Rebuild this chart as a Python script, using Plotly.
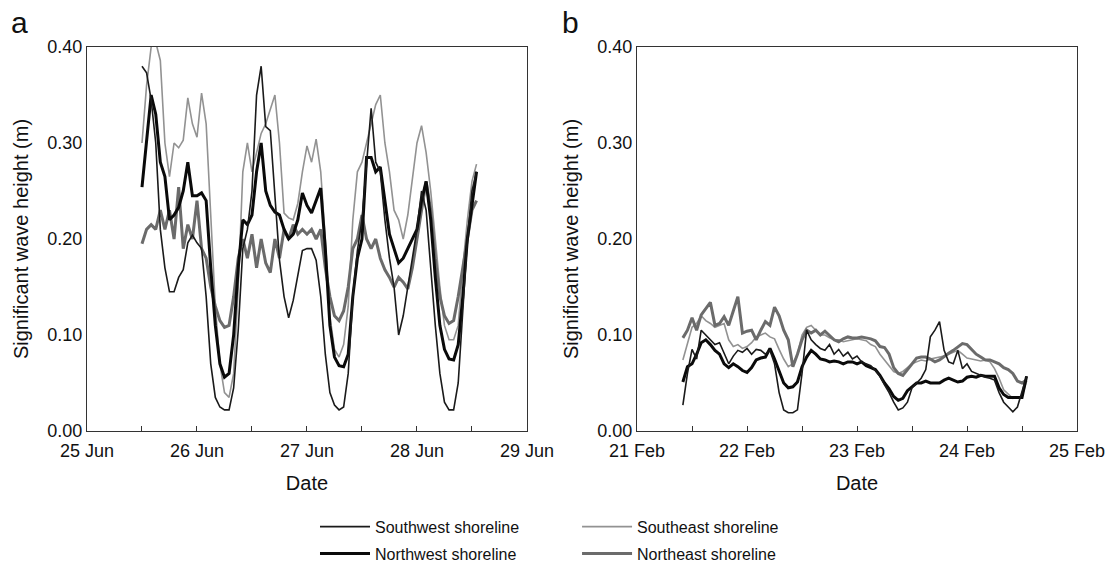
import pandas as pd
import plotly.graph_objects as go
from plotly.subplots import make_subplots

# ---------------- data ----------------
# Panel a: hourly from 25 Jun 12:00
start_a = "2010-06-25 12:00"
sw_a = [0.38, 0.373, 0.345, 0.30, 0.21, 0.17, 0.145, 0.145, 0.16, 0.168, 0.196, 0.204,
        0.196, 0.19, 0.14, 0.07, 0.035, 0.025, 0.022, 0.022, 0.045, 0.105, 0.19, 0.21,
        0.25, 0.35, 0.38, 0.317, 0.313, 0.24, 0.178, 0.14, 0.118, 0.136, 0.16, 0.188,
        0.19, 0.19, 0.178, 0.14, 0.08, 0.04, 0.027, 0.022, 0.025, 0.06, 0.14, 0.188,
        0.22, 0.28, 0.336, 0.28, 0.27, 0.22, 0.18, 0.15, 0.10, 0.12, 0.15, 0.18,
        0.21, 0.25, 0.23, 0.17, 0.11, 0.06, 0.03, 0.022, 0.022, 0.05, 0.12, 0.20, 0.25, 0.27]
nw_a = [0.254, 0.30, 0.35, 0.33, 0.28, 0.265, 0.22, 0.225, 0.233, 0.25, 0.28, 0.245,
        0.245, 0.248, 0.24, 0.17, 0.11, 0.07, 0.056, 0.06, 0.10, 0.17, 0.22, 0.215,
        0.225, 0.27, 0.30, 0.25, 0.235, 0.228, 0.225, 0.21, 0.20, 0.205, 0.22, 0.248,
        0.235, 0.227, 0.24, 0.253, 0.19, 0.11, 0.077, 0.068, 0.067, 0.08, 0.14, 0.18,
        0.20, 0.285, 0.285, 0.27, 0.275, 0.24, 0.205, 0.19, 0.175, 0.18, 0.19, 0.20,
        0.21, 0.24, 0.26, 0.22, 0.16, 0.11, 0.085, 0.075, 0.074, 0.09, 0.14, 0.20, 0.235, 0.27]
se_a = [0.30, 0.36, 0.40, 0.405, 0.386, 0.30, 0.265, 0.30, 0.295, 0.303, 0.347, 0.32,
        0.306, 0.352, 0.32, 0.22, 0.13, 0.07, 0.04, 0.035, 0.06, 0.15, 0.27, 0.30,
        0.27, 0.29, 0.31, 0.32, 0.335, 0.35, 0.30, 0.227, 0.222, 0.22, 0.237, 0.27,
        0.297, 0.28, 0.304, 0.27, 0.20, 0.12, 0.085, 0.077, 0.09, 0.13, 0.22, 0.27,
        0.28, 0.30, 0.32, 0.34, 0.35, 0.30, 0.27, 0.23, 0.22, 0.20, 0.225, 0.26,
        0.30, 0.318, 0.29, 0.25, 0.20, 0.15, 0.11, 0.095, 0.095, 0.11, 0.17, 0.22, 0.26, 0.278]
ne_a = [0.195, 0.21, 0.215, 0.21, 0.23, 0.21, 0.23, 0.20, 0.254, 0.19, 0.215, 0.20,
        0.24, 0.19, 0.18, 0.15, 0.13, 0.115, 0.108, 0.11, 0.14, 0.18, 0.20, 0.18,
        0.205, 0.17, 0.20, 0.175, 0.165, 0.20, 0.18, 0.21, 0.20, 0.215, 0.205, 0.21,
        0.205, 0.21, 0.20, 0.21, 0.17, 0.14, 0.12, 0.115, 0.125, 0.15, 0.19, 0.20,
        0.225, 0.20, 0.19, 0.20, 0.18, 0.168, 0.16, 0.15, 0.16, 0.155, 0.148, 0.17,
        0.20, 0.23, 0.26, 0.23, 0.18, 0.14, 0.12, 0.112, 0.115, 0.14, 0.17, 0.20, 0.23, 0.24]

# Panel b: hourly from 21 Feb 10:00
start_b = "2010-02-21 10:00"
sw_b = [0.027, 0.06, 0.085, 0.075, 0.105, 0.10, 0.095, 0.09, 0.092, 0.08, 0.07, 0.078,
        0.084, 0.082, 0.086, 0.08, 0.085, 0.084, 0.08, 0.084, 0.07, 0.04, 0.022, 0.019,
        0.019, 0.022, 0.06, 0.105, 0.095, 0.09, 0.086, 0.084, 0.09, 0.08, 0.085, 0.078,
        0.082, 0.075, 0.078, 0.072, 0.07, 0.068, 0.063, 0.057, 0.048, 0.04, 0.03, 0.022,
        0.024, 0.03, 0.045, 0.05, 0.055, 0.064, 0.098, 0.105, 0.114, 0.084, 0.072, 0.07,
        0.084, 0.065, 0.07, 0.062, 0.06, 0.058, 0.056, 0.055, 0.053, 0.04, 0.03, 0.025,
        0.02, 0.025, 0.04, 0.057]
nw_b = [0.051, 0.067, 0.07, 0.08, 0.092, 0.095, 0.09, 0.084, 0.08, 0.07, 0.066, 0.07,
        0.067, 0.063, 0.061, 0.066, 0.074, 0.076, 0.077, 0.086, 0.075, 0.062, 0.05, 0.045,
        0.046, 0.051, 0.067, 0.077, 0.084, 0.08, 0.075, 0.074, 0.072, 0.073, 0.072, 0.07,
        0.072, 0.072, 0.07, 0.072, 0.068, 0.066, 0.064, 0.058, 0.05, 0.044, 0.036, 0.032,
        0.034, 0.042, 0.046, 0.05, 0.05, 0.052, 0.05, 0.05, 0.05, 0.053, 0.055, 0.053,
        0.051, 0.052, 0.056, 0.057, 0.056, 0.058, 0.057, 0.057, 0.057, 0.045, 0.038, 0.035,
        0.035, 0.035, 0.035, 0.057]
se_b = [0.074, 0.09, 0.108, 0.112, 0.12, 0.115, 0.112, 0.108, 0.11, 0.112, 0.095, 0.088,
        0.09, 0.086, 0.088, 0.092, 0.098, 0.10, 0.102, 0.098, 0.096, 0.085, 0.075, 0.067,
        0.07, 0.08, 0.10, 0.108, 0.11, 0.105, 0.10, 0.10, 0.097, 0.095, 0.095, 0.093,
        0.094, 0.095, 0.096, 0.095, 0.094, 0.09, 0.088, 0.08, 0.074, 0.068, 0.062, 0.06,
        0.062, 0.066, 0.07, 0.072, 0.074, 0.073, 0.075, 0.076, 0.077, 0.078, 0.08, 0.082,
        0.084, 0.08, 0.076, 0.075, 0.074, 0.073, 0.074, 0.072, 0.065, 0.055, 0.043, 0.038,
        0.034, 0.035, 0.036, 0.052]
ne_b = [0.097, 0.105, 0.118, 0.105, 0.121, 0.128, 0.134, 0.11, 0.112, 0.119, 0.11, 0.125,
        0.14, 0.102, 0.104, 0.105, 0.095, 0.105, 0.114, 0.11, 0.129, 0.12, 0.105, 0.095,
        0.067, 0.08, 0.095, 0.105, 0.102, 0.105, 0.10, 0.104, 0.10, 0.095, 0.093, 0.096,
        0.098, 0.097, 0.097, 0.098, 0.097, 0.096, 0.094, 0.088, 0.087, 0.08, 0.066, 0.06,
        0.058, 0.064, 0.07, 0.076, 0.077, 0.077, 0.075, 0.072, 0.074, 0.078, 0.081, 0.084,
        0.088, 0.091, 0.09, 0.085, 0.08, 0.077, 0.074, 0.074, 0.072, 0.07, 0.066, 0.064,
        0.06, 0.052, 0.05, 0.053]

series_names = ["Southwest shoreline", "Northwest shoreline",
                "Southeast shoreline", "Northeast shoreline"]
day_labels_a = ["25 Jun", "26 Jun", "27 Jun", "28 Jun", "29 Jun"]
day_labels_b = ["21 Feb", "22 Feb", "23 Feb", "24 Feb", "25 Feb"]
y_ticks = [0.0, 0.1, 0.2, 0.3, 0.4]

# ---------------- styles ----------------
styles = {
    "Southwest shoreline": dict(color="#1a1a1a", width=1.6, legend="legend", rank=1),
    "Northwest shoreline": dict(color="#0a0a0a", width=3.0, legend="legend", rank=2),
    "Southeast shoreline": dict(color="#929292", width=1.6, legend="legend2", rank=1),
    "Northeast shoreline": dict(color="#6b6b6b", width=3.0, legend="legend2", rank=2),
}
FONT = "Liberation Sans, Arial, sans-serif"

x_a = pd.date_range(start_a, periods=len(sw_a), freq="h")
x_b = pd.date_range(start_b, periods=len(sw_b), freq="h")

fig = make_subplots(rows=1, cols=2, horizontal_spacing=0.1112)

panel_data = [
    (1, x_a, {"Southwest shoreline": sw_a, "Northwest shoreline": nw_a,
              "Southeast shoreline": se_a, "Northeast shoreline": ne_a}),
    (2, x_b, {"Southwest shoreline": sw_b, "Northwest shoreline": nw_b,
              "Southeast shoreline": se_b, "Northeast shoreline": ne_b}),
]
draw_order = ["Southeast shoreline", "Northeast shoreline",
              "Northwest shoreline", "Southwest shoreline"]
for col, xs, d in panel_data:
    for name in draw_order:
        st = styles[name]
        fig.add_trace(go.Scatter(
            x=xs, y=d[name], mode="lines", name=name,
            line=dict(color=st["color"], width=st["width"]),
            legend=st["legend"], legendgroup=name, showlegend=(col == 1),
            legendrank=st["rank"],
        ), row=1, col=col)


def day_ticks(first_day, labels):
    vals, texts = [], []
    base = pd.Timestamp(first_day)
    for i in range(len(labels)):
        vals.append(base + pd.Timedelta(hours=24 * i))
        texts.append(labels[i])
        if i < len(labels) - 1:
            vals.append(base + pd.Timedelta(hours=24 * i + 12))
            texts.append("")
    return vals, texts


for col, first, labels in [(1, "2010-06-25", day_labels_a), (2, "2010-02-21", day_labels_b)]:
    tv, tt = day_ticks(first, labels)
    fig.update_xaxes(
        row=1, col=col, type="date", automargin=False,
        range=[pd.Timestamp(first), pd.Timestamp(first) + pd.Timedelta(days=4)],
        tickvals=tv, ticktext=tt, ticks="inside", ticklen=5, tickwidth=1.3,
        tickcolor="#333", showline=True, linecolor="#333", linewidth=1.4,
        mirror=True, showgrid=False, zeroline=False, ticklabelstandoff=3,
        tickfont=dict(family=FONT, size=18, color="#111"),
        title=dict(text="Date", font=dict(family=FONT, size=20, color="#111"), standoff=16),
    )
    fig.update_yaxes(
        row=1, col=col, range=[0, 0.40], tickvals=y_ticks, tickformat=".2f",
        ticks="", showline=True, linecolor="#333", linewidth=1.4, mirror=True,
        showgrid=False, zeroline=False, automargin=False,
        tickfont=dict(family=FONT, size=18, color="#111"),
        title=dict(text="Significant wave height (m)",
                   font=dict(family=FONT, size=20, color="#111"), standoff=13),
    )

leg_common = dict(yanchor="top", xanchor="left", orientation="v", itemwidth=50,
                  tracegroupgap=3, font=dict(family=FONT, size=16, color="#111"),
                  bgcolor="rgba(0,0,0,0)")
fig.update_layout(
    width=1107, height=565,
    margin=dict(l=87, r=30, t=47, b=134, autoexpand=False),
    paper_bgcolor="white", plot_bgcolor="white",
    font=dict(family=FONT, size=16, color="#111"),
    legend=dict(x=0.2303, y=-0.205, **leg_common),
    legend2=dict(x=0.4950, y=-0.205, **leg_common),
    annotations=[
        dict(text="a", x=-0.0677, y=1.065, xref="paper", yref="paper",
             xanchor="center", yanchor="middle", showarrow=False,
             font=dict(family=FONT, size=30, color="#111")),
        dict(text="b", x=0.4879, y=1.065, xref="paper", yref="paper",
             xanchor="center", yanchor="middle", showarrow=False,
             font=dict(family=FONT, size=30, color="#111")),
    ],
)

fig.write_html("out.html", config={"displayModeBar": False},
               post_script="document.body.style.margin='0';")
